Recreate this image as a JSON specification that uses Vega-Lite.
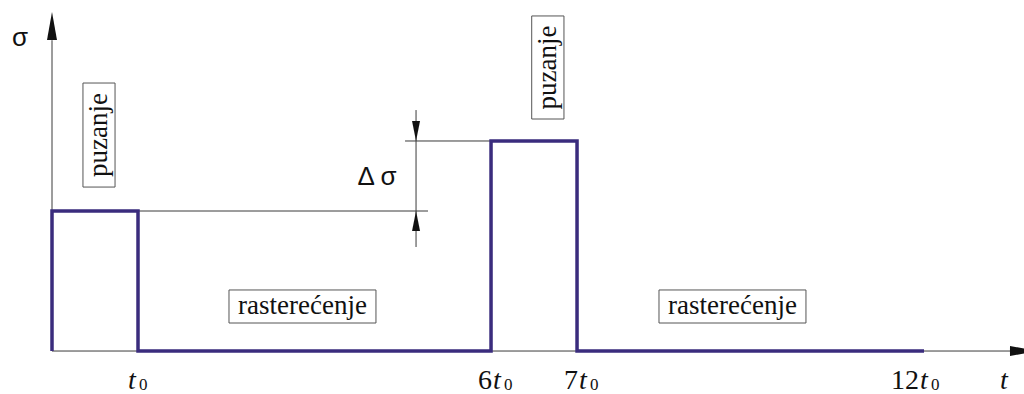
{
  "$schema": "https://vega.github.io/schema/vega-lite/v6.json",
  "width": 1024,
  "height": 394,
  "padding": 0,
  "autosize": {"type": "none"},
  "background": "white",
  "config": {"view": {"stroke": null}},
  "datasets": {
    "stress": [
      {"i": 0, "t": 0, "s": 0},
      {"i": 1, "t": 0, "s": 1},
      {"i": 2, "t": 1, "s": 1},
      {"i": 3, "t": 1, "s": 0},
      {"i": 4, "t": 5.105, "s": 0},
      {"i": 5, "t": 5.105, "s": 1.5},
      {"i": 6, "t": 6.105, "s": 1.5},
      {"i": 7, "t": 6.105, "s": 0},
      {"i": 8, "t": 10.14, "s": 0}
    ],
    "lines": [
      {"x": 0, "y": 0, "x2": 0, "y2": 2.22},
      {"x": 0, "y": 0, "x2": 11.14, "y2": 0},
      {"x": 1, "y": 1, "x2": 4.372, "y2": 1},
      {"x": 4.105, "y": 1.5, "x2": 5.105, "y2": 1.5},
      {"x": 4.233, "y": 0.743, "x2": 4.233, "y2": 1.721}
    ],
    "boxes": [
      {"x": 0.36, "x2": 0.733, "y": 1.914, "y2": 1.171},
      {"x": 5.578, "x2": 5.953, "y": 2.393, "y2": 1.657},
      {"x": 2.058, "x2": 3.767, "y": 0.436, "y2": 0.2},
      {"x": 7.058, "x2": 8.767, "y": 0.436, "y2": 0.2}
    ],
    "vlabels": [
      {"x": 0.547, "y": 1.543, "text": "puzanje"},
      {"x": 5.765, "y": 2.025, "text": "puzanje"}
    ],
    "hlabels": [
      {"x": 2.913, "y": 0.318, "text": "rasterećenje"},
      {"x": 7.913, "y": 0.318, "text": "rasterećenje"}
    ],
    "ticks": [
      {"lx": 0.884, "ly": -0.272, "coef": "", "sub": "0"},
      {"lx": 5.128, "ly": -0.272, "coef": "6", "sub": "0"},
      {"lx": 6.128, "ly": -0.272, "coef": "7", "sub": "0"},
      {"lx": 10.093, "ly": -0.272, "coef": "12", "sub": "0"},
      {"lx": 11.023, "ly": -0.272, "coef": "", "sub": ""}
    ],
    "symbols": [
      {"x": -0.372, "y": 2.236, "text": "σ"},
      {"x": 3.779, "y": 1.243, "text": "Δ σ"}
    ]
  },
  "encoding": {
    "x": {"type": "quantitative", "scale": {"domain": [-0.6047, 11.3023], "nice": false, "zero": false}, "axis": null},
    "y": {"type": "quantitative", "scale": {"domain": [-0.307, 2.507], "nice": false, "zero": false}, "axis": null}
  },
  "layer": [
    {
      "data": {"name": "lines"},
      "mark": {"type": "rule", "color": "#3a3a3a", "strokeWidth": 1},
      "encoding": {
        "x": {"field": "x", "type": "quantitative"},
        "y": {"field": "y", "type": "quantitative"},
        "x2": {"field": "x2"},
        "y2": {"field": "y2"}
      }
    },
    {
      "data": {"values": [{"x": 0, "y": 2.321}]},
      "mark": {"type": "point", "shape": "M0,-1L0.357,1L-0.357,1Z", "size": 784, "filled": true, "color": "#111111", "opacity": 1},
      "encoding": {"x": {"field": "x", "type": "quantitative"}, "y": {"field": "y", "type": "quantitative"}}
    },
    {
      "data": {"values": [{"x": 11.302, "y": 0}]},
      "mark": {"type": "point", "shape": "M1,0L-1,0.357L-1,-0.357Z", "size": 784, "filled": true, "color": "#111111", "opacity": 1},
      "encoding": {"x": {"field": "x", "type": "quantitative"}, "y": {"field": "y", "type": "quantitative"}}
    },
    {
      "data": {"values": [{"x": 4.233, "y": 1.571}]},
      "mark": {"type": "point", "shape": "M0,1L0.4,-1L-0.4,-1Z", "size": 400, "filled": true, "color": "#111111", "opacity": 1},
      "encoding": {"x": {"field": "x", "type": "quantitative"}, "y": {"field": "y", "type": "quantitative"}}
    },
    {
      "data": {"values": [{"x": 4.233, "y": 0.929}]},
      "mark": {"type": "point", "shape": "M0,-1L0.4,1L-0.4,1Z", "size": 400, "filled": true, "color": "#111111", "opacity": 1},
      "encoding": {"x": {"field": "x", "type": "quantitative"}, "y": {"field": "y", "type": "quantitative"}}
    },
    {
      "data": {"name": "stress"},
      "mark": {"type": "line", "color": "#3a2c7d", "strokeWidth": 3.5, "strokeJoin": "miter", "strokeCap": "butt"},
      "encoding": {
        "x": {"field": "t", "type": "quantitative"},
        "y": {"field": "s", "type": "quantitative"},
        "order": {"field": "i", "type": "quantitative"}
      }
    },
    {
      "data": {"name": "boxes"},
      "mark": {"type": "rect", "fill": "white", "stroke": "#555555", "strokeWidth": 1},
      "encoding": {
        "x": {"field": "x", "type": "quantitative"},
        "x2": {"field": "x2"},
        "y": {"field": "y", "type": "quantitative"},
        "y2": {"field": "y2"}
      }
    },
    {
      "data": {"name": "vlabels"},
      "mark": {"type": "text", "angle": 270, "font": "Liberation Serif", "fontSize": 27, "align": "center", "baseline": "middle", "color": "#111111"},
      "encoding": {
        "x": {"field": "x", "type": "quantitative"},
        "y": {"field": "y", "type": "quantitative"},
        "text": {"field": "text"}
      }
    },
    {
      "data": {"name": "hlabels"},
      "mark": {"type": "text", "font": "Liberation Serif", "fontSize": 27, "align": "center", "baseline": "middle", "color": "#111111"},
      "encoding": {
        "x": {"field": "x", "type": "quantitative"},
        "y": {"field": "y", "type": "quantitative"},
        "text": {"field": "text"}
      }
    },
    {
      "data": {"name": "ticks"},
      "mark": {"type": "text", "font": "Liberation Serif", "fontSize": 28, "align": "right", "baseline": "alphabetic", "dx": -1, "color": "#111111"},
      "encoding": {
        "x": {"field": "lx", "type": "quantitative"},
        "y": {"field": "ly", "type": "quantitative"},
        "text": {"field": "coef"}
      }
    },
    {
      "data": {"name": "ticks"},
      "mark": {"type": "text", "font": "Liberation Serif", "fontSize": 28, "fontStyle": "italic", "align": "left", "baseline": "alphabetic", "color": "#111111"},
      "encoding": {
        "x": {"field": "lx", "type": "quantitative"},
        "y": {"field": "ly", "type": "quantitative"},
        "text": {"value": "t"}
      }
    },
    {
      "data": {"name": "ticks"},
      "mark": {"type": "text", "font": "Liberation Serif", "fontSize": 17, "align": "left", "baseline": "alphabetic", "dx": 11, "dy": 1, "color": "#111111"},
      "encoding": {
        "x": {"field": "lx", "type": "quantitative"},
        "y": {"field": "ly", "type": "quantitative"},
        "text": {"field": "sub"}
      }
    },
    {
      "data": {"name": "symbols"},
      "mark": {"type": "text", "font": "Liberation Sans", "fontSize": 26, "align": "center", "baseline": "middle", "color": "#111111"},
      "encoding": {
        "x": {"field": "x", "type": "quantitative"},
        "y": {"field": "y", "type": "quantitative"},
        "text": {"field": "text"}
      }
    }
  ]
}
